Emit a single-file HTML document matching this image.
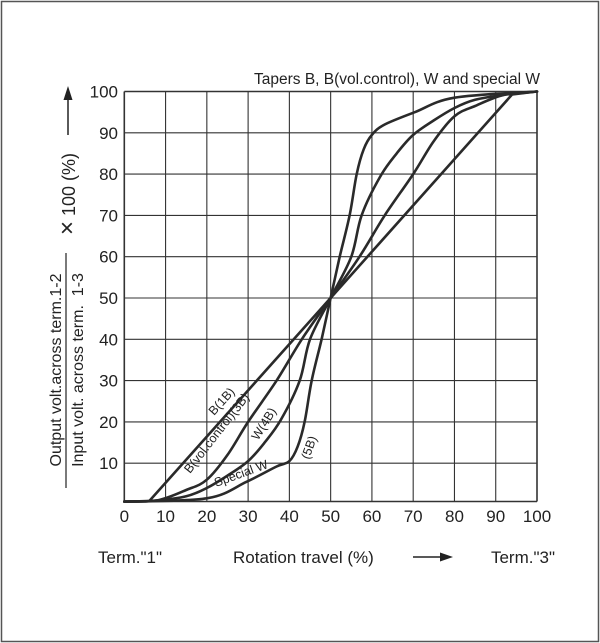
<!DOCTYPE html>
<html><head><meta charset="utf-8">
<style>
html,body{margin:0;padding:0;background:#fff;}
svg{display:block;font-family:"Liberation Sans",Arial,sans-serif;}
</style></head>
<body>
<svg id="chart" width="600" height="643" viewBox="0 0 600 643" xmlns="http://www.w3.org/2000/svg">
<rect x="1.5" y="1.5" width="597" height="640" fill="#fff" stroke="#555" stroke-width="1.5"/>
<text x="540" y="84" font-size="15.5" text-anchor="end" fill="#222">Tapers B, B(vol.control), W and special W</text>
<g id="grid"></g>
<g id="yticks"></g>
<g id="xticks"></g>
<g id="curves"></g>
<g font-size="12.5" fill="#222">
<text transform="translate(214,416) rotate(-48)">B(1B)</text>
<text transform="translate(190,474) rotate(-52)">B(vol.control)(3B)</text>
<text transform="translate(258,441) rotate(-58)">W(4B)</text>
<text transform="translate(216,487) rotate(-20)">Special W</text>
<text transform="translate(309,460) rotate(-70)">(5B)</text>
</g>
<g fill="#222" font-size="16">
<text transform="translate(61,370) rotate(-90)" text-anchor="middle">Output volt.across term.1-2</text>
<line x1="66" y1="253" x2="66" y2="488" stroke="#222" stroke-width="1.2"/>
<text transform="translate(83,370) rotate(-90)" text-anchor="middle" xml:space="preserve">Input volt. across term.  1-3</text>
<text transform="translate(75,194) rotate(-90)" text-anchor="middle" font-size="18"><tspan font-size="24">×</tspan> 100 (%)</text>
<line x1="68" y1="135" x2="68" y2="98" stroke="#222" stroke-width="1.5"/>
<polygon points="68,86 63.5,100 72.5,100" fill="#222"/>
</g>
<g fill="#222" font-size="17">
<text x="98" y="563">Term."1"</text>
<text x="233" y="563">Rotation travel (%)</text>
<line x1="413" y1="557" x2="442" y2="557" stroke="#222" stroke-width="1.5"/>
<polygon points="453,557 440,552.5 440,561.5" fill="#222"/>
<text x="555" y="563" text-anchor="end">Term."3"</text>
</g>
</svg>
<script>
const xTicks = [0,10,20,30,40,50,60,70,80,90,100];
const yTicks = [10,20,30,40,50,60,70,80,90,100];
const series1B_x = [0,6,50,94,100];
const series1B_y = [0.7,0.8,50,99.3,100];
const series3B_x = [0,8,15,20,25,30,36.9,43,50,57,63.1,70,75,80,85,92,100];
const series3B_y = [0.7,1,3.5,6,12,20,30,40,50,60,70,80,88,94,96.5,99.2,100];
const series4B_x = [0,8,15,20,25,30,34,38,42.5,45,50,55,57.5,62,66,70,75,80,85,92,100];
const series4B_y = [0.7,1,2,4,7,10.5,15,20.6,30,40,50,60,70,79.4,85,89.5,93,96,98,99.2,100];
const series5B_x = [0,20,29.6,36.9,40,42,43.7,45.4,47.8,50,52.2,54.6,56.3,58,60,63.1,70.4,80,100];
const series5B_y = [0.7,1.5,5.5,9.2,10.5,14,20,30,40,50,60,70,80,86,89.5,92,95,98.5,100];

const NS='http://www.w3.org/2000/svg';
const X0=124.3, XS=4.127, Y0=504.5, YS=4.13;
function sx(v){return X0+XS*v;}
function sy(v){return Y0-YS*v;}
function mk(tag,attrs,parent){const e=document.createElementNS(NS,tag);for(const k in attrs)e.setAttribute(k,attrs[k]);parent.appendChild(e);return e;}

const grid=document.getElementById('grid');
const yBottom=501.5;
xTicks.forEach(t=>{
  const l=mk('line',{x1:sx(t),x2:sx(t),y1:sy(100),y2:yBottom,stroke:'#333','stroke-width':(t===0||t===100)?1.6:1.1},grid);
  
  
});
yTicks.forEach(t=>{
  const l=mk('line',{x1:sx(0),x2:sx(100),y1:sy(t),y2:sy(t),stroke:'#333','stroke-width':t===100?1.6:1.1},grid);
  
  
});
const bl=mk('line',{x1:sx(0),x2:sx(100),y1:yBottom,y2:yBottom,stroke:'#333','stroke-width':1.6},grid);



const yt=document.getElementById('yticks');
yTicks.forEach(t=>{
  const e=mk('text',{x:118,y:sy(t)+6,'text-anchor':'end','font-size':17,fill:'#222'},yt);
  e.textContent=String(t);
  
  
});
const xt=document.getElementById('xticks');
xTicks.forEach(t=>{
  const e=mk('text',{x:sx(t),y:522,'text-anchor':'middle','font-size':17,fill:'#222'},xt);
  e.textContent=String(t);
  
  
});

function smoothPath(xs,ys){
  const p=xs.map((x,i)=>[sx(x),sy(ys[i])]);
  let d='M'+p[0][0].toFixed(1)+','+p[0][1].toFixed(1);
  for(let i=0;i<p.length-1;i++){
    const p0=p[i-1]||p[i],p1=p[i],p2=p[i+1],p3=p[i+2]||p[i+1];
    const c1=[p1[0]+(p2[0]-p0[0])/6,p1[1]+(p2[1]-p0[1])/6];
    const c2=[p2[0]-(p3[0]-p1[0])/6,p2[1]-(p3[1]-p1[1])/6];
    d+=' C'+c1[0].toFixed(1)+','+c1[1].toFixed(1)+' '+c2[0].toFixed(1)+','+c2[1].toFixed(1)+' '+p2[0].toFixed(1)+','+p2[1].toFixed(1);
  }
  return d;
}
function linePath(xs,ys){
  return xs.map((x,i)=>(i?'L':'M')+sx(x).toFixed(1)+','+sy(ys[i]).toFixed(1)).join(' ');
}
const cg=document.getElementById('curves');
[['curve-1b',series1B_x,series1B_y,true],['curve-3b',series3B_x,series3B_y,false],['curve-4b',series4B_x,series4B_y,false],['curve-5b',series5B_x,series5B_y,false]].forEach(s=>{
  const d=s[3]?linePath(s[1],s[2]):smoothPath(s[1],s[2]);
  const p=mk('path',{d:d,fill:'none',stroke:'#2a2a2a','stroke-width':2.6,'stroke-linejoin':'round','stroke-linecap':'round'},cg);
  
  
});
</script>
</body></html>
